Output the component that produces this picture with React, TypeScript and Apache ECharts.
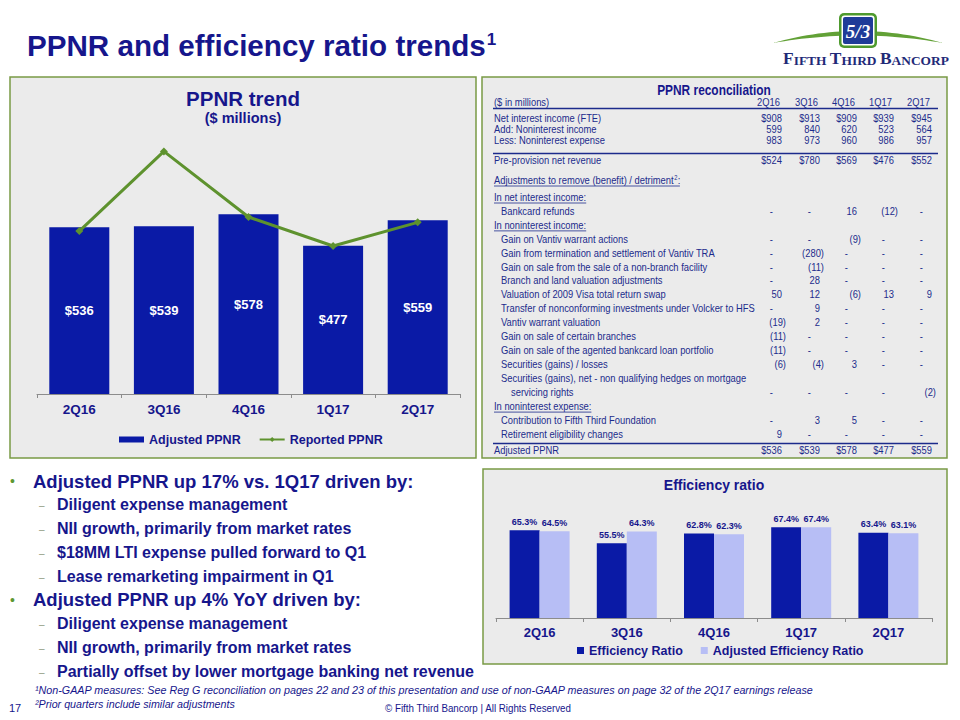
import React, { useEffect, useRef } from 'react';
import * as echarts from 'echarts';

// ---------------- DATA ----------------
const quarters = ['2Q16', '3Q16', '4Q16', '1Q17', '2Q17'];
const adjustedPPNR = [536, 539, 578, 477, 559];
const reportedPPNR = [524, 780, 569, 476, 552];
const efficiencyRatio = [65.3, 55.5, 62.8, 67.4, 63.4];
const adjustedEfficiencyRatio = [64.5, 64.3, 62.3, 67.4, 63.1];

const netInterestIncome = [908, 913, 909, 939, 945];
const noninterestIncome = [599, 840, 620, 523, 564];
const noninterestExpense = [983, 973, 960, 986, 957];
const preProvisionNetRevenue = [524, 780, 569, 476, 552];

type Adj = [string, (number | null)[]];
const niiAdjustments: Adj[] = [['Bankcard refunds', [null, null, 16, -12, null]]];
const nonIntIncomeAdjustments: Adj[] = [
  ['Gain on Vantiv warrant actions', [null, null, -9, null, null]],
  ['Gain from termination and settlement of Vantiv TRA', [null, -280, null, null, null]],
  ['Gain on sale from the sale of a non-branch facility', [null, -11, null, null, null]],
  ['Branch and land valuation adjustments', [null, 28, null, null, null]],
  ['Valuation of 2009 Visa total return swap', [50, 12, -6, 13, 9]],
  ['Transfer of nonconforming investments under Volcker to HFS', [null, 9, null, null, null]],
  ['Vantiv warrant valuation', [-19, 2, null, null, null]],
  ['Gain on sale of certain branches', [-11, null, null, null, null]],
  ['Gain on sale of the agented bankcard loan portfolio', [-11, null, null, null, null]],
  ['Securities (gains) / losses', [-6, -4, 3, null, null]],
  ['Securities (gains), net - non qualifying hedges on mortgage\nservicing rights', [null, null, null, null, -2]],
];
const nonIntExpenseAdjustments: Adj[] = [
  ['Contribution to Fifth Third Foundation', [null, 3, 5, null, null]],
  ['Retirement eligibility changes', [9, null, null, null, null]],
];

const bullets: [number, string][] = [
  [0, 'Adjusted PPNR up 17% vs. 1Q17 driven by:'],
  [1, 'Diligent expense management'],
  [1, 'NII growth, primarily from market rates'],
  [1, '$18MM LTI expense pulled forward to Q1'],
  [1, 'Lease remarketing impairment in Q1'],
  [0, 'Adjusted PPNR up 4% YoY driven by:'],
  [1, 'Diligent expense management'],
  [1, 'NII growth, primarily from market rates'],
  [1, 'Partially offset by lower mortgage banking net revenue'],
];

const footnotes = [
  '¹Non-GAAP measures: See Reg G reconciliation on pages 22 and 23 of this presentation and use of non-GAAP measures on page 32 of the 2Q17 earnings release',
  '²Prior quarters include similar adjustments',
];

// ---------------- STYLE ----------------
const FONT = '"Liberation Sans", Arial, sans-serif';
const NAVY = '#16168C';
const TABLE_TXT = '#1C2B8C';
const BAR_BLUE = '#0A1AA6';
const LIGHT_BAR = '#B7BEF5';
const GREEN = '#5E922E';
const PANEL_FILL = '#EBEBEB';
const PANEL_BORDER = '#7A9A45';

let measureCtx: CanvasRenderingContext2D | null = null;
function textWidth(text: string, font: string): number {
  if (!measureCtx && typeof document !== 'undefined') {
    measureCtx = document.createElement('canvas').getContext('2d');
  }
  if (!measureCtx) return text.length * 6;
  measureCtx.font = font;
  return measureCtx.measureText(text).width;
}

function swooshPoints(): number[][] {
  // crescent made of two quadratic curves (logo decoration)
  const p0 = [773, 43], p2 = [943, 43];
  const outerC = [858, 19], innerC = [858, 28];
  const pts: number[][] = [];
  const q = (c: number[], t: number) => [
    (1 - t) * (1 - t) * p0[0] + 2 * (1 - t) * t * c[0] + t * t * p2[0],
    (1 - t) * (1 - t) * p0[1] + 2 * (1 - t) * t * c[1] + t * t * p2[1],
  ];
  const N = 30;
  for (let i = 0; i <= N; i++) pts.push(q(outerC, i / N));
  for (let i = N; i >= 0; i--) pts.push(q(innerC, i / N));
  return pts;
}

function buildTable(): any[] {
  const els: any[] = [];
  const SX = 0.815;
  const fs = 11.5;
  const font = `${fs}px ${FONT}`;
  const R = [782, 820, 857, 894, 932];
  const L0 = 494, L1 = 501, L2 = 511;
  const txt = (text: string, x: number, y: number, align = 'left') => ({
    type: 'text', x, y, scaleX: SX, z: 5, silent: true,
    style: { text, font, fill: TABLE_TXT, textAlign: align, textVerticalAlign: 'middle' },
  });
  const hline = (x1: number, x2: number, y: number, w = 1.6) => ({
    type: 'line', z: 5, silent: true, shape: { x1, y1: y, x2, y2: y }, style: { stroke: TABLE_TXT, lineWidth: w },
  });
  const underline = (text: string, x: number, y: number) =>
    hline(x, x + textWidth(text, font) * SX, y + 6, 0.8);

  els.push({
    type: 'text', x: 714, y: 90, scaleX: 0.85, z: 5, silent: true,
    style: { text: 'PPNR reconciliation', font: `bold 14px ${FONT}`, fill: NAVY, textAlign: 'center', textVerticalAlign: 'middle' },
  });
  els.push(txt('($ in millions)', L0, 102));
  quarters.forEach((q, i) => els.push(txt(q, R[i] - 2, 102, 'right')));
  els.push(hline(493, 938, 108.5));

  const summary: [string, number[], boolean][] = [
    ['Net interest income (FTE)', netInterestIncome, true],
    ['Add: Noninterest income', noninterestIncome, false],
    ['Less: Noninterest expense', noninterestExpense, false],
  ];
  summary.forEach(([label, vals, dollar], r) => {
    const y = 118.5 + r * 11;
    els.push(txt(label, L0, y));
    vals.forEach((v, i) => els.push(txt((dollar ? '$' : '') + v, R[i], y, 'right')));
  });
  els.push(hline(493, 938, 153.5));
  els.push(txt('Pre-provision net revenue', L0, 160));
  preProvisionNetRevenue.forEach((v, i) => els.push(txt('$' + v, R[i], 160, 'right')));

  const adjHead = 'Adjustments to remove (benefit) / detriment';
  const adjY = 180;
  els.push(txt(adjHead, L0, adjY));
  const w1 = textWidth(adjHead, font) * SX;
  els.push({
    type: 'text', x: L0 + w1 + 0.5, y: adjY - 3, scaleX: SX, z: 5, silent: true,
    style: { text: '2', font: `7px ${FONT}`, fill: TABLE_TXT, textAlign: 'left', textVerticalAlign: 'middle' },
  });
  const w2 = textWidth('2', `7px ${FONT}`) * SX;
  els.push(txt(':', L0 + w1 + w2 + 0.8, adjY));
  els.push(hline(L0, L0 + w1 + w2 + 3, adjY + 6, 0.8));

  type Row = { kind: 'head' | 'item' | 'label'; text: string; indent: number; vals?: (number | null)[] };
  const rows: Row[] = [];
  const addSection = (head: string, items: Adj[]) => {
    rows.push({ kind: 'head', text: head, indent: L0 });
    items.forEach(([label, vals]) => {
      const parts = label.split('\n');
      if (parts.length > 1) {
        rows.push({ kind: 'label', text: parts[0], indent: L1 });
        rows.push({ kind: 'item', text: parts[1], indent: L2, vals });
      } else {
        rows.push({ kind: 'item', text: label, indent: L1, vals });
      }
    });
  };
  addSection('In net interest income:', niiAdjustments);
  addSection('In noninterest income:', nonIntIncomeAdjustments);
  addSection('In noninterest expense:', nonIntExpenseAdjustments);

  rows.forEach((row, k) => {
    const y = 197 + k * 13.94;
    els.push(txt(row.text, row.indent, y));
    if (row.kind === 'head') els.push(underline(row.text, row.indent, y));
    if (row.vals) {
      row.vals.forEach((v, i) => {
        if (v === null) els.push(txt('-', R[i] - 9, y, 'right'));
        else if (v < 0) els.push(txt('(' + Math.abs(v) + ')', R[i] + 4, y, 'right'));
        else els.push(txt(String(v), R[i], y, 'right'));
      });
    }
  });
  els.push(hline(493, 938, 443.5));
  els.push(txt('Adjusted PPNR', L0, 450));
  adjustedPPNR.forEach((v, i) => els.push(txt('$' + v, R[i], 450, 'right')));
  return els;
}

function buildGraphics(): any[] {
  const els: any[] = [];
  const panel = (x: number, y: number, width: number, height: number) => ({
    type: 'rect', z: 0, silent: true, shape: { x, y, width, height },
    style: { fill: PANEL_FILL, stroke: PANEL_BORDER, lineWidth: 1.5 },
  });
  els.push(panel(10, 77, 466, 381));
  els.push(panel(482, 77, 465, 381));
  els.push(panel(483, 469, 464, 195));

  const titleText = 'PPNR and efficiency ratio trends';
  const titleFont = `bold 29.6px ${FONT}`;
  els.push({ type: 'text', x: 27, y: 45, z: 5, silent: true, style: { text: titleText, font: titleFont, fill: NAVY, textAlign: 'left', textVerticalAlign: 'middle' } });
  const tw = textWidth(titleText, titleFont);
  els.push({ type: 'text', x: 27 + tw + 1, y: 39, z: 5, silent: true, style: { text: '1', font: `bold 17px ${FONT}`, fill: NAVY, textAlign: 'left', textVerticalAlign: 'middle' } });

  // logo
  els.push({
    type: 'polygon', z: 4, silent: true,
    shape: { points: swooshPoints() },
    style: { fill: '#62A136', stroke: 'none' },
  });
  els.push({ type: 'rect', z: 5, silent: true, shape: { x: 839, y: 13, width: 38, height: 35, r: 5 }, style: { fill: '#4E9A2E' } });
  els.push({ type: 'rect', z: 5, silent: true, shape: { x: 841.5, y: 15.5, width: 33, height: 30, r: 3 }, style: { fill: '#FFFFFF' } });
  els.push({ type: 'rect', z: 5, silent: true, shape: { x: 843, y: 17, width: 30, height: 27, r: 2 }, style: { fill: '#1F3C98' } });
  els.push({ type: 'text', x: 858, y: 31, z: 6, silent: true, style: { text: '5/3', font: `italic bold 19px "Liberation Serif", serif`, fill: '#FFFFFF', textAlign: 'center', textVerticalAlign: 'middle' } });

  const bigF = `bold 17.5px "Liberation Serif", serif`;
  const smallF = `bold 13.5px "Liberation Serif", serif`;
  const logoTokens: [string, boolean][] = [['F', true], ['IFTH ', false], ['T', true], ['HIRD ', false], ['B', true], ['ANCORP', false]];
  const logoW = logoTokens.reduce((s, [t, b]) => s + textWidth(t, b ? bigF : smallF), 0);
  els.push({
    type: 'text', x: 866, y: 58, z: 6, silent: true, scaleX: 166 / logoW,
    style: {
      text: logoTokens.map(([t, b]) => `{${b ? 'b' : 's'}|${t}}`).join(''),
      textAlign: 'center', textVerticalAlign: 'middle',
      rich: {
        b: { fontSize: 17.5, fontWeight: 'bold', fontFamily: '"Liberation Serif", serif', fill: '#1F2A78', verticalAlign: 'bottom', lineHeight: 18 },
        s: { fontSize: 13.5, fontWeight: 'bold', fontFamily: '"Liberation Serif", serif', fill: '#1F2A78', verticalAlign: 'bottom', lineHeight: 18 },
      },
    },
  });

  els.push({ type: 'text', x: 243, y: 98, z: 5, silent: true, style: { text: 'PPNR trend', font: `bold 20.5px ${FONT}`, fill: NAVY, textAlign: 'center', textVerticalAlign: 'middle' } });
  els.push({ type: 'text', x: 243, y: 118, z: 5, silent: true, style: { text: '($ millions)', font: `bold 14.5px ${FONT}`, fill: NAVY, textAlign: 'center', textVerticalAlign: 'middle' } });

  els.push({ type: 'text', x: 714, y: 485, z: 5, silent: true, style: { text: 'Efficiency ratio', font: `bold 14px ${FONT}`, fill: NAVY, textAlign: 'center', textVerticalAlign: 'middle' } });

  els.push(...buildTable());

  bullets.forEach(([lvl, text], i) => {
    const y = 481 + i * 23.75;
    if (lvl === 0) {
      els.push({ type: 'text', x: 10, y, z: 5, silent: true, style: { text: '•', font: `14px ${FONT}`, fill: '#5E9732', textAlign: 'left', textVerticalAlign: 'middle' } });
      els.push({ type: 'text', x: 33, y, z: 5, silent: true, style: { text, font: `bold 18.5px ${FONT}`, fill: NAVY, textAlign: 'left', textVerticalAlign: 'middle' } });
    } else {
      els.push({ type: 'text', x: 39, y: y + 1, z: 5, silent: true, style: { text: '–', font: `10px ${FONT}`, fill: '#8E9A80', textAlign: 'left', textVerticalAlign: 'middle' } });
      els.push({ type: 'text', x: 57, y, z: 5, silent: true, style: { text, font: `bold 16px ${FONT}`, fill: NAVY, textAlign: 'left', textVerticalAlign: 'middle' } });
    }
  });

  const fnFont = `italic 11px ${FONT}`;
  const fnTargets = [780, 200];
  footnotes.forEach((t, i) => {
    const w = textWidth(t, fnFont);
    els.push({ type: 'text', x: 35, y: 690 + i * 14, z: 5, silent: true, scaleX: fnTargets[i] / w, style: { text: t, font: fnFont, fill: NAVY, textAlign: 'left', textVerticalAlign: 'middle' } });
  });
  els.push({ type: 'text', x: 9, y: 708, z: 5, silent: true, style: { text: '17', font: `11px ${FONT}`, fill: NAVY, textAlign: 'left', textVerticalAlign: 'middle' } });
  const cr = '© Fifth Third Bancorp | All Rights Reserved';
  const crFont = `10px ${FONT}`;
  els.push({ type: 'text', x: 478, y: 708, z: 5, silent: true, scaleX: 187 / textWidth(cr, crFont), style: { text: cr, font: crFont, fill: NAVY, textAlign: 'center', textVerticalAlign: 'middle' } });
  return els;
}

function buildOption(): any {
  const axisCommon = {
    type: 'category',
    axisLine: { lineStyle: { color: '#8C8C8C', width: 1 } },
    axisTick: { show: true, length: 4, lineStyle: { color: '#8C8C8C' } },
  };
  return {
    animation: false,
    backgroundColor: '#FFFFFF',
    textStyle: { fontFamily: FONT },
    grid: [
      { left: 37, top: 83, width: 423, height: 311 },
      { left: 496, top: 483.5, width: 436, height: 134.5 },
    ],
    xAxis: [
      { ...axisCommon, gridIndex: 0, data: quarters, axisLabel: { color: NAVY, fontWeight: 'bold', fontSize: 13.5, margin: 8 } },
      { ...axisCommon, gridIndex: 1, data: quarters, axisLabel: { color: NAVY, fontWeight: 'bold', fontSize: 13, margin: 8 } },
    ],
    yAxis: [
      { type: 'value', gridIndex: 0, min: 0, max: 1000, show: false },
      { type: 'value', gridIndex: 1, min: 0, max: 100, show: false },
    ],
    legend: [
      {
        left: 119, top: 433, padding: 0, itemWidth: 25, itemHeight: 6, itemGap: 18,
        textStyle: { color: NAVY, fontWeight: 'bold', fontSize: 12.5, fontFamily: FONT },
        data: [{ name: 'Adjusted PPNR', icon: 'rect' }, { name: 'Reported PPNR' }],
      },
      {
        left: 577, top: 644, padding: 0, itemWidth: 7, itemHeight: 7, itemGap: 18,
        textStyle: { color: NAVY, fontWeight: 'bold', fontSize: 12.5, fontFamily: FONT },
        data: [{ name: 'Efficiency Ratio', icon: 'rect' }, { name: 'Adjusted Efficiency Ratio', icon: 'rect' }],
      },
    ],
    series: [
      {
        name: 'Adjusted PPNR', type: 'bar', xAxisIndex: 0, yAxisIndex: 0, data: adjustedPPNR, barWidth: 60,
        itemStyle: { color: BAR_BLUE },
        label: { show: true, position: 'inside', color: '#FFFFFF', fontWeight: 'bold', fontSize: 13, formatter: (p: any) => '$' + p.value },
      },
      {
        name: 'Reported PPNR', type: 'line', xAxisIndex: 0, yAxisIndex: 0, data: reportedPPNR,
        symbol: 'diamond', symbolSize: 8, z: 3,
        lineStyle: { color: GREEN, width: 3 }, itemStyle: { color: GREEN },
      },
      {
        name: 'Efficiency Ratio', type: 'bar', xAxisIndex: 1, yAxisIndex: 1, data: efficiencyRatio, barWidth: 30, barGap: '0%',
        itemStyle: { color: BAR_BLUE },
        label: { show: true, position: 'top', distance: 4, color: NAVY, fontWeight: 'bold', fontSize: 9, formatter: (p: any) => Number(p.value).toFixed(1) + '%' },
      },
      {
        name: 'Adjusted Efficiency Ratio', type: 'bar', xAxisIndex: 1, yAxisIndex: 1, data: adjustedEfficiencyRatio, barWidth: 30, barGap: '0%',
        itemStyle: { color: LIGHT_BAR },
        label: { show: true, position: 'top', distance: 4, color: NAVY, fontWeight: 'bold', fontSize: 9, formatter: (p: any) => Number(p.value).toFixed(1) + '%' },
      },
    ],
    graphic: { elements: buildGraphics() },
  };
}

export default function App() {
  const ref = useRef<HTMLDivElement>(null);
  useEffect(() => {
    if (!ref.current) return;
    const chart = echarts.init(ref.current, null, { renderer: 'svg' });
    chart.setOption(buildOption());
    return () => chart.dispose();
  }, []);
  return (
    <div
      ref={ref}
      style={{ position: 'fixed', left: 0, top: 0, width: 960, height: 720, background: '#FFFFFF' }}
    />
  );
}
